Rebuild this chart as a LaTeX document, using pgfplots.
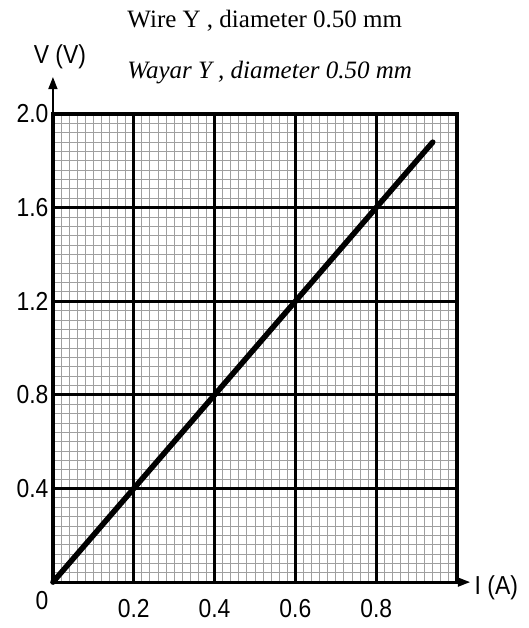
\documentclass[border=0pt]{standalone}
\usepackage{fontspec}
\setmainfont{Liberation Serif}
\newfontfamily\ticksans[FakeStretch=0.88]{Liberation Sans}
\usepackage{pgfplots}
\pgfplotsset{compat=1.18}
\usetikzlibrary{arrows.meta}

\begin{document}
\begin{tikzpicture}
\begin{axis}[
  scale only axis,
  width=404pt, height=468pt,
  xmin=0, xmax=1.0, ymin=0, ymax=2.0,
  xtick={0,0.2,0.4,0.6,0.8,1.0},
  xticklabels={,0.2,\raisebox{-8pt}{0.4},0.6,0.8,},
  ytick={0,0.4,0.8,1.2,1.6,2.0},
  yticklabels={,0.4,0.8,1.2,1.6,2.0},
  minor x tick num=9, minor y tick num=9,
  grid=both,
  major grid style={gray!75, line width=0.9pt},
  minor grid style={gray!75, line width=0.9pt},
  extra x ticks={0,0.2,0.4,0.6,0.8,1.0},
  extra y ticks={0,0.4,0.8,1.2,1.6,2.0},
  extra x tick labels={}, extra y tick labels={},
  extra tick style={grid=major, major grid style={black, line width=3.2pt}},
  major tick length=0pt, minor tick length=0pt,
  axis line style={black, line width=3.2pt},
  tick label style={font=\ticksans\fontsize{26}{29}\selectfont},
  /pgf/number format/assume math mode=true,
  xticklabel style={yshift=-14pt},
  yticklabel style={xshift=-1pt},
  clip=false,
]
  \addplot[black, line width=5.5pt, line cap=round] coordinates {(0,0) (0.94,1.88)};

  \draw[black, line width=1.5pt, -{Triangle[length=12pt,width=9pt]}]
    (rel axis cs:0,1) -- (rel axis cs:0,1.079);
  \draw[black, line width=1.5pt, -{Triangle[length=12pt,width=9pt]}]
    (rel axis cs:1,0) -- (rel axis cs:1.032,0);

  \node[font=\ticksans\fontsize{26}{29}\selectfont] at (rel axis cs:0.0173,1.1218) {V (V)};
  \node[font=\ticksans\fontsize{26}{29}\selectfont, anchor=west] at (rel axis cs:1.035,-0.0128) {I (A)};
  \node[font=\ticksans\fontsize{26}{29}\selectfont] at (rel axis cs:-0.027,-0.0385) {0};

  \node[font=\fontsize{25}{28}\selectfont, anchor=base west] at (rel axis cs:0.1757,1.1838)
    {Wire Y , diameter 0.50 mm};
  \node[font=\itshape\fontsize{25}{28}\selectfont, anchor=base west] at (rel axis cs:0.1757,1.0769)
    {Wayar Y , diameter 0.50 mm};

  \coordinate (bl) at (rel axis cs:-0.131,-0.098);
  \coordinate (tr) at (rel axis cs:1.176,1.2436);
\end{axis}
\pgfresetboundingbox
\path[use as bounding box] (bl) rectangle (tr);
\end{tikzpicture}
\end{document}
